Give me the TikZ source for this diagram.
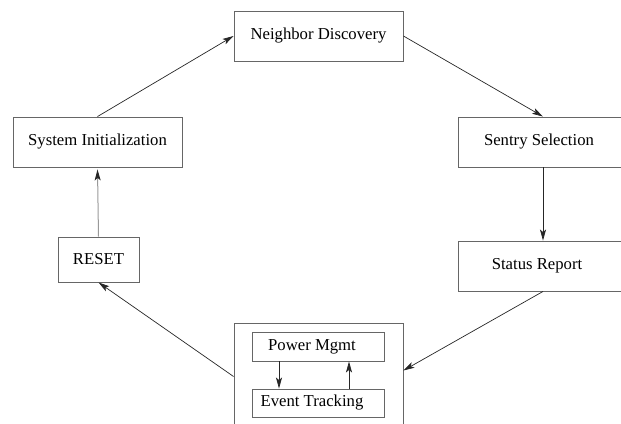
\documentclass[tikz,border=0pt]{standalone}
\usepackage{fontspec}
\setmainfont{Liberation Serif}
\usetikzlibrary{arrows.meta}
\begin{document}
\begin{tikzpicture}[x=1pt,y=-1pt,
  box/.style={draw=black!60, line width=0.9pt, inner sep=0pt, font=\fontsize{16.7}{20}\selectfont},
  arr/.style={draw=black!85, line width=0.7pt, -{Stealth[length=11pt,width=6pt,inset=2.5pt]}},
  garr/.style={draw=black!40, line width=1pt, -{Stealth[length=11pt,width=6pt,inset=2.5pt,black!85]}}]
\useasboundingbox (0,0) rectangle (621,423);
\clip (0,0) rectangle (621,423);
\node[box, minimum width=169pt, minimum height=50pt] (nd) at (318.5,36) {Neighbor Discovery};
\node[box, minimum width=169pt, minimum height=50pt] (si) at (97.5,142) {System Initialization};
\node[box, minimum width=169pt, minimum height=50pt] (ss) at (543,142) {\hspace*{-8pt}Sentry Selection};
\node[box, minimum width=169pt, minimum height=50pt] (sr) at (543,266) {\hspace*{-12pt}Status Report};
\node[box, minimum width=81pt, minimum height=45pt] (reset) at (98.5,259.5) {RESET};
\node[box, minimum width=169pt, minimum height=107pt] (outer) at (318.5,376.5) {};
\node[box, minimum width=132pt, minimum height=29pt] (pm) at (318,346.5) {\raisebox{-3pt}{Power Mgmt}\hspace*{12pt}};
\node[box, minimum width=132pt, minimum height=28pt] (et) at (318,403) {\raisebox{-3pt}{Event Tracking}\hspace*{12pt}};
\draw[arr] (si.north) -- (nd.west);
\draw[arr] (nd.east) -- (ss.north);
\draw[arr] (ss.south) -- (sr.north);
\draw[arr] (sr.south) -- ([yshift=6pt]outer.east);
\draw[arr] (outer.west) -- (reset.south);
\draw[garr] (reset.north) -- ([yshift=-2pt]si.south);
\draw[arr] ([xshift=-39pt]pm.south) -- ([xshift=-39pt]et.north);
\draw[arr] ([xshift=31pt]et.north) -- ([xshift=31pt]pm.south);
\end{tikzpicture}
\end{document}
